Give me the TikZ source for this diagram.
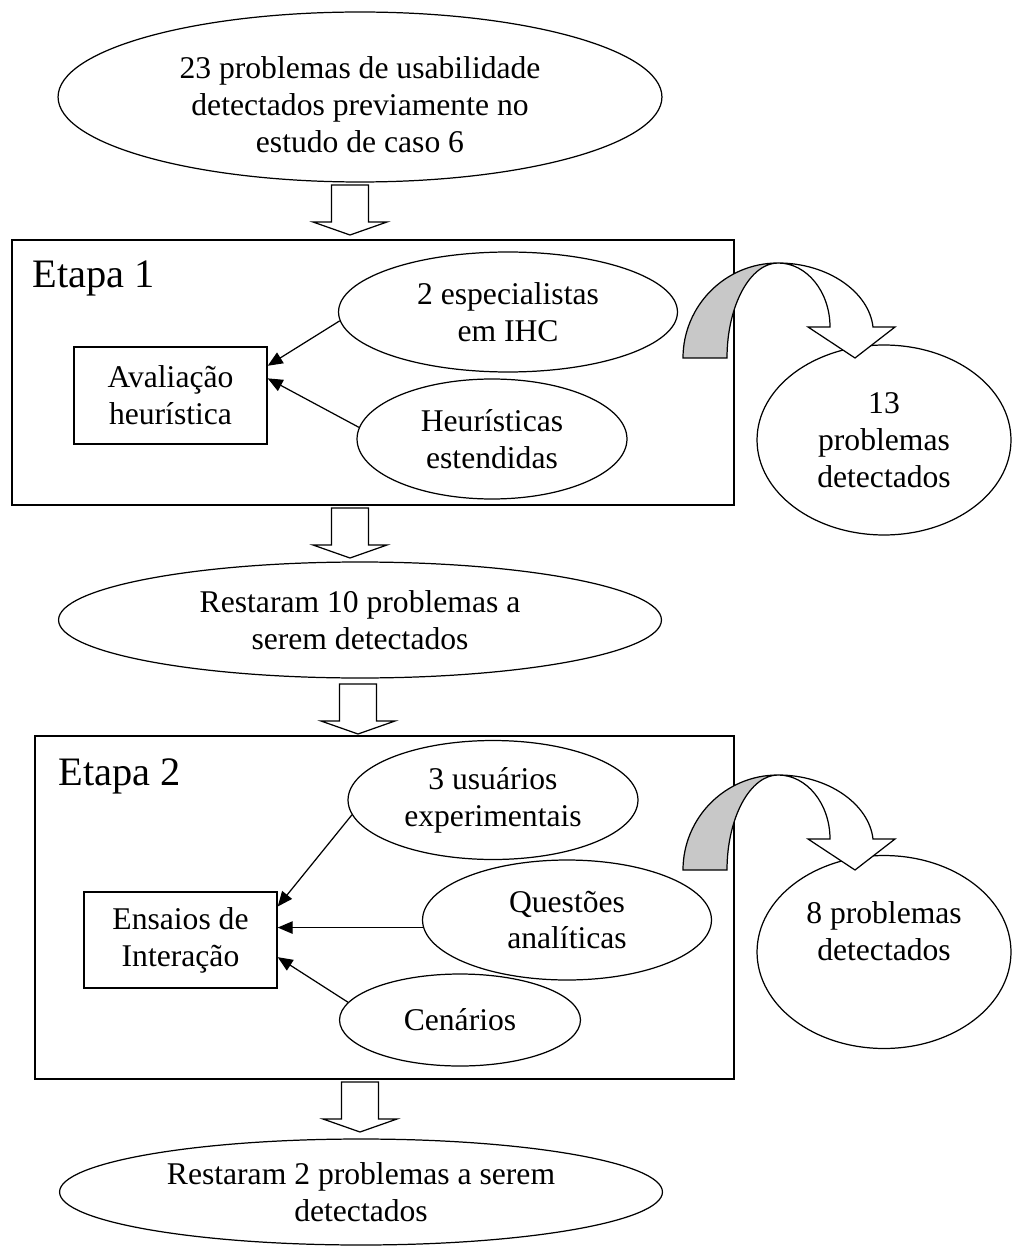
\documentclass[tikz,border=0pt]{standalone}
\usepackage{fontspec}
\setmainfont{Liberation Serif}
\usetikzlibrary{arrows.meta,shapes.geometric}
\definecolor{shade}{HTML}{C8C8C8}
\tikzset{
  txt/.style={font=\fontsize{18}{21}\selectfont,align=center},
  oval/.style={ellipse,draw,line width=0.7pt,inner sep=0pt,txt},
  act/.style={rectangle,draw,line width=0.8pt,inner sep=0pt,txt},
  stagebox/.style={rectangle,draw,line width=0.9pt,inner sep=0pt},
  stagelabel/.style={font=\fontsize{23}{26}\selectfont,anchor=base west,inner sep=0pt},
  arr/.style={-{Triangle[length=3mm,width=2.5mm]},line width=0.7pt},
  downarr/.pic={\draw[fill=white,line width=0.7pt] (-18.5,0)--(18.5,0)--(18.5,37)--(37,37)--(0,50)--(-37,37)--(-18.5,37)--cycle;},
  turnarr/.pic={
    \draw[fill=shade,line width=0.7pt] (0,0) .. controls (0,-52) and (42,-95) .. (95,-95) .. controls (67,-95) and (44,-52) .. (44,0) -- cycle;
    \draw[fill=white,line width=0.7pt] (95,-95) .. controls (145,-95) and (186,-66) .. (190,-31) -- (212,-31) -- (172,0) -- (125,-31) -- (147,-31) .. controls (147,-66) and (124,-95) .. (95,-95) -- cycle;}
}

\begin{document}
\begin{tikzpicture}[x=0.02cm,y=-0.02cm]
\useasboundingbox (0,0) rectangle (1012,1246);
\node[oval,minimum width=12.08cm,minimum height=3.4cm] (start) at (360,97) {};
\node[txt] (starttxt) at (360,105) {23 problemas de usabilidade\\detectados previamente no\\estudo de caso 6};
\pic at (350,185) {downarr};

% etapa 1
\node[stagebox,minimum width=14.44cm,minimum height=5.3cm] (etapa1) at (373,372.5) {};
\node[stagelabel] (lab1) at (32,288) {Etapa 1};
\node[act,minimum width=3.86cm,minimum height=1.94cm] (aval) at (170.5,395.5) {Avaliação\\heurística};
\node[oval,minimum width=6.78cm,minimum height=2.4cm] (esp) at (508,312) {2 especialistas\\em IHC};
\node[oval,minimum width=5.4cm,minimum height=2.4cm] (heur) at (492,439) {Heurísticas\\estendidas};
\draw[arr] (esp.183) -- (aval.17);
\draw[arr] (heur.175) -- (aval.10);
\node[oval,minimum width=5.08cm,minimum height=3.8cm] (found1) at (884,440) {13\\problemas\\detectados};
\pic at (683,358) {turnarr};

\pic at (350,508) {downarr};
\node[oval,minimum width=12.06cm,minimum height=2.32cm] (rest10) at (360,620) {Restaram 10 problemas a\\serem detectados};
\pic at (358,684) {downarr};

% etapa 2
\node[stagebox,minimum width=13.98cm,minimum height=6.86cm] (etapa2) at (384.5,907.5) {};
\node[stagelabel] (lab2) at (58,785) {Etapa 2};
\node[act,minimum width=3.86cm,minimum height=1.92cm] (ens) at (180.5,940) {Ensaios de\\Interação};
\node[oval,minimum width=5.8cm,minimum height=2.38cm] (usu) at (493,800) {3 usuários\\experimentais};
\node[oval,minimum width=5.78cm,minimum height=2.4cm] (quest) at (567,920) {Questões\\analíticas};
\node[oval,minimum width=4.82cm,minimum height=1.84cm] (cen) at (460,1020) {Cenários};
\draw[arr] (usu.186) -- (ens.19);
\draw[arr] (quest.183) -- (quest.183 -| ens.east);
\draw[arr] (cen.171) -- (ens.-10);
\node[oval,minimum width=5.08cm,minimum height=3.86cm] (found2) at (884,952) {};
\node[txt] (found2txt) at (884,931) {8 problemas\\detectados};
\pic at (683,870) {turnarr};

\pic at (360,1082) {downarr};
\node[oval,minimum width=12.06cm,minimum height=2.12cm] (rest2) at (361,1192) {Restaram 2 problemas a serem\\detectados};
\end{tikzpicture}
\end{document}
